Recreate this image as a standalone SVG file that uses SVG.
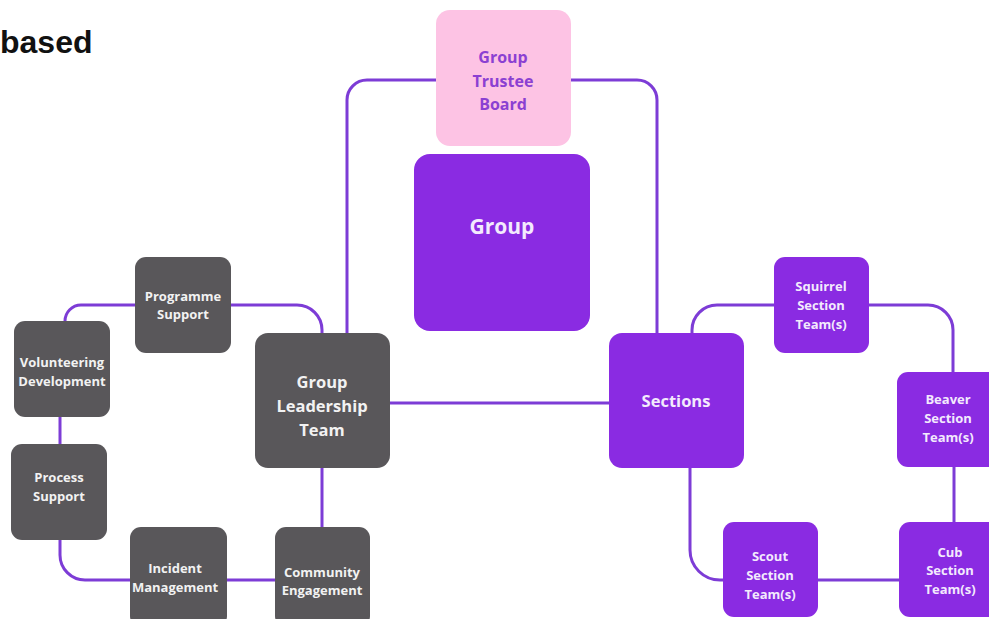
<svg xmlns="http://www.w3.org/2000/svg" width="989" height="619" viewBox="0 0 989 619">
<style>
.g{fill:#59575a}
.p{fill:#8a2be2}
.t{font-family:"Open Sans","Liberation Sans",sans-serif;font-weight:bold;text-anchor:middle}
.tg{fill:#f2f2f2;font-size:13px}
.tp{fill:#f3eafd;font-size:13px}
.c{fill:none;stroke:#7d3cd6;stroke-width:3}
</style>
<rect width="989" height="619" fill="#ffffff"/>
<text x="0" y="53" font-family="Liberation Sans,Arial,sans-serif" font-weight="bold" font-size="32" fill="#111111">based</text>
<g id="connectors">
<path class="c" d="M436,80 H367 A20,20 0 0 0 347,100 V333"/>
<path class="c" d="M571,80 H637 A20,20 0 0 1 657,100 V333"/>
<path class="c" d="M390,403 H609"/>
<path class="c" d="M135,305 H81 A16,16 0 0 0 65,321"/>
<path class="c" d="M231,305 H297 A25,25 0 0 1 322,330 V333"/>
<path class="c" d="M60,417 V444"/>
<path class="c" d="M60,540 V555 A25,25 0 0 0 85,580 H130"/>
<path class="c" d="M227,580 H275"/>
<path class="c" d="M322,468 V527"/>
<path class="c" d="M692,333 V330 A25,25 0 0 1 717,305 H774"/>
<path class="c" d="M869,305 H928 A25,25 0 0 1 953,330 V372"/>
<path class="c" d="M690,468 V550 A30,30 0 0 0 720,580 H723"/>
<path class="c" d="M818,580 H899"/>
<path class="c" d="M954,467 V522"/>
</g>
<g id="board">
<rect x="436" y="10" width="135" height="136" rx="14" fill="#fdc3e4"/>
<text class="t" x="503" y="62.5" font-size="16" fill="#8b40d2">Group</text>
<text class="t" x="503" y="86.5" font-size="16" fill="#8b40d2">Trustee</text>
<text class="t" x="503" y="110" font-size="16" fill="#8b40d2">Board</text>
</g>
<g id="group">
<rect class="p" x="414" y="154" width="176" height="177" rx="16"/>
<text class="t" x="502" y="234" font-size="21" fill="#f3eafd">Group</text>
</g>
<g id="glt">
<rect class="g" x="255" y="333" width="135" height="135" rx="13"/>
<text class="t tg" x="322" y="388" style="font-size:16.5px">Group</text>
<text class="t tg" x="322" y="412" style="font-size:16.5px">Leadership</text>
<text class="t tg" x="322" y="436" style="font-size:16.5px">Team</text>
</g>
<g id="programme">
<rect class="g" x="135" y="257" width="96" height="96" rx="11"/>
<text class="t tg" x="183" y="300.5">Programme</text>
<text class="t tg" x="183" y="318.5">Support</text>
</g>
<g id="volunteering">
<rect class="g" x="14" y="321" width="96" height="96" rx="11"/>
<text class="t tg" x="62" y="366.5">Volunteering</text>
<text class="t tg" x="62" y="385.5">Development</text>
</g>
<g id="process">
<rect class="g" x="11" y="444" width="96" height="96" rx="11"/>
<text class="t tg" x="59" y="481.5">Process</text>
<text class="t tg" x="59" y="500.5">Support</text>
</g>
<g id="incident">
<rect class="g" x="130" y="527" width="97" height="100" rx="11"/>
<text class="t tg" x="175" y="572.5">Incident</text>
<text class="t tg" x="175" y="591.5">Management</text>
</g>
<g id="community">
<rect class="g" x="275" y="527" width="95" height="100" rx="11"/>
<text class="t tg" x="322" y="576.5">Community</text>
<text class="t tg" x="322" y="594.5">Engagement</text>
</g>
<g id="sections">
<rect class="p" x="609" y="333" width="135" height="135" rx="13"/>
<text class="t" x="676" y="407" font-size="16.5" fill="#f3eafd">Sections</text>
</g>
<g id="squirrel">
<rect class="p" x="774" y="257" width="95" height="96" rx="11"/>
<text class="t tp" x="821" y="290.5">Squirrel</text>
<text class="t tp" x="821" y="309.5">Section</text>
<text class="t tp" x="821" y="328.5">Team(s)</text>
</g>
<g id="beaver">
<rect class="p" x="897" y="372" width="102" height="95" rx="11"/>
<text class="t tp" x="948" y="403.5">Beaver</text>
<text class="t tp" x="948" y="422.5">Section</text>
<text class="t tp" x="948" y="441.5">Team(s)</text>
</g>
<g id="scout">
<rect class="p" x="723" y="522" width="95" height="95" rx="11"/>
<text class="t tp" x="770" y="560.5">Scout</text>
<text class="t tp" x="770" y="579.5">Section</text>
<text class="t tp" x="770" y="598.5">Team(s)</text>
</g>
<g id="cub">
<rect class="p" x="899" y="522" width="102" height="95" rx="11"/>
<text class="t tp" x="950" y="556.5">Cub</text>
<text class="t tp" x="950" y="574.5">Section</text>
<text class="t tp" x="950" y="593.5">Team(s)</text>
</g>
</svg>
